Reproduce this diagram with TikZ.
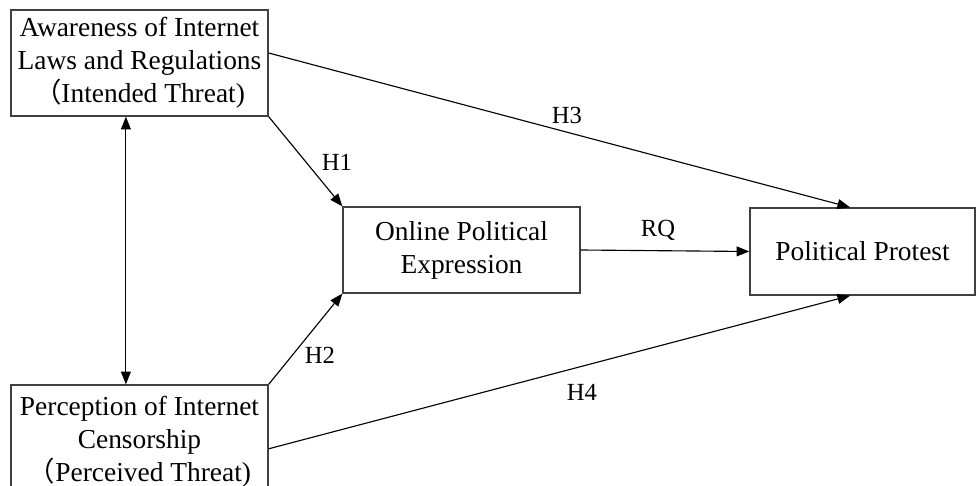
\documentclass[tikz,border=0pt]{standalone}
\usepackage{fontspec}
\setmainfont{Liberation Serif}
\newfontfamily\cjk{Noto Sans CJK SC}
\usetikzlibrary{arrows.meta}

\newcommand\boxtextstyle{\fontsize{19.5}{23.5}\selectfont}
\newcommand\hyptextstyle{\fontsize{17.5}{20}\selectfont}
\newcommand\lpar{{\cjk （}}

\tikzset{
  varbox/.style={draw=black!75, line width=0.9pt, align=center, inner sep=0pt,
    font=\boxtextstyle},
  path/.style={line width=0.8pt, -{Triangle[length=9pt,width=7pt]}},
  hyp/.style={font=\hyptextstyle, inner sep=1pt},
}

\begin{document}
\begin{tikzpicture}[x=0.025cm, y=-0.025cm]
  \useasboundingbox (0,0) rectangle (976,486);

  % variables
  \node[varbox, minimum width=6.425cm, minimum height=2.65cm] (aware) at (139.5,63)
    {Awareness of Internet\\Laws and Regulations\\\lpar Intended Threat)};
  \node[varbox, minimum width=6.425cm, minimum height=2.85cm] (percep) at (139.5,442)
    {Perception of Internet\\Censorship\\\lpar Perceived Threat)};
  \node[varbox, minimum width=5.925cm, minimum height=2.15cm] (online) at (461.5,250)
    {Online Political\\Expression};
  \node[varbox, minimum width=5.625cm, minimum height=2.175cm] (protest) at (862.5,251.5)
    {Political Protest};

  % paths
  \draw[path, {Triangle[length=9pt,width=7pt]}-{Triangle[length=9pt,width=7pt]}]
    ([xshift=-0.34cm]aware.south) -- ([xshift=-0.34cm]percep.north);
  \draw[path] (aware.south east) -- (online.north west);
  \draw[path] (percep.north east) -- (online.south west);
  \draw[path] ([yshift=0.25cm]aware.east) -- ([xshift=-0.31cm]protest.north);
  \draw[path] ([yshift=-0.17cm]percep.east) -- ([xshift=-0.31cm]protest.south);
  \draw[path] (online.east) -- (protest.west);

  % labels
  \node[hyp] (h1) at (337,162) {H1};
  \node[hyp] (h2) at (320,355) {H2};
  \node[hyp] (h3) at (567,115) {H3};
  \node[hyp] (h4) at (582,392) {H4};
  \node[hyp] (rq) at (658,230) {RQ};
\end{tikzpicture}
\end{document}
